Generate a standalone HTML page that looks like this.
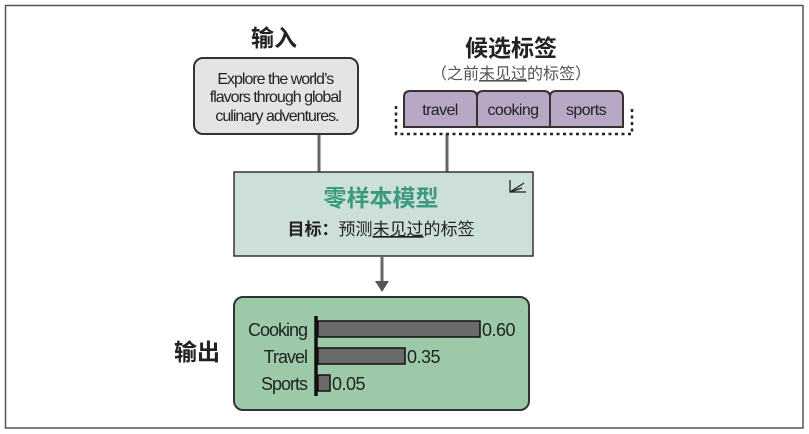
<!DOCTYPE html>
<html><head><meta charset="utf-8"><style>
html,body{margin:0;padding:0;background:#fff;}
svg{display:block;}
text{font-family:"Liberation Sans","Noto Sans CJK SC",sans-serif;}
</style></head><body>
<svg width="809" height="434" viewBox="0 0 809 434" xmlns="http://www.w3.org/2000/svg">
<rect x="5.5" y="5.5" width="797.5" height="422.5" fill="#fff" stroke="#555" stroke-width="1.5"/>
<text x="274" y="46" font-size="23" font-weight="bold" text-anchor="middle" fill="#222">输入</text>
<line x1="319" y1="134" x2="319" y2="172" stroke="#666" stroke-width="3"/>
<rect x="194" y="58" width="164" height="76" rx="9" fill="#e4e4e4" stroke="#333" stroke-width="2"/>
<text font-size="16" text-anchor="middle" fill="#222" letter-spacing="-1">
<tspan x="277" y="84">Explore the world’s</tspan>
<tspan x="277" y="102">flavors through global</tspan>
<tspan x="277" y="121">culinary adventures.</tspan></text>
<text x="511" y="56" font-size="23" font-weight="bold" text-anchor="middle" fill="#222">候选标签</text>
<text x="511" y="79" font-size="16" text-anchor="middle" fill="#555">（之前<tspan text-decoration="underline">未见过</tspan>的标签）</text>
<line x1="447" y1="134" x2="447" y2="172" stroke="#666" stroke-width="3"/>
<path d="M396 106 V134 H632 V106" fill="none" stroke="#222" stroke-width="2.5" stroke-dasharray="3,3.5"/>
<path d="M404 127 V97 q0 -6 6 -6 H471 q6 0 6 6 V127 Z" fill="#b9a7c6" stroke="#333" stroke-width="2"/>
<path d="M477 127 V97 q0 -6 6 -6 H544 q6 0 6 6 V127 Z" fill="#b9a7c6" stroke="#333" stroke-width="2"/>
<path d="M550 127 V97 q0 -6 6 -6 H617 q6 0 6 6 V127 Z" fill="#b9a7c6" stroke="#333" stroke-width="2"/>
<text font-size="16" text-anchor="middle" fill="#222" letter-spacing="-0.6">
<tspan x="440" y="115">travel</tspan><tspan x="513" y="115">cooking</tspan><tspan x="586" y="115">sports</tspan></text>
<rect x="234" y="172" width="299" height="84" fill="#cde0d8" stroke="#333" stroke-width="1.5"/>
<text x="381" y="206" font-size="23" font-weight="bold" text-anchor="middle" fill="#3a9a80">零样本模型</text>
<text x="381" y="235" font-size="17" text-anchor="middle" fill="#222"><tspan font-weight="bold">目标：</tspan>预测<tspan text-decoration="underline">未见过</tspan>的标签</text>
<g stroke="#222" stroke-width="1.3" fill="none">
<path d="M510 180 V192 H526"/><path d="M510 192 L524 183"/><path d="M510 192 L522 188"/>
</g>
<line x1="382" y1="256" x2="382" y2="282" stroke="#666" stroke-width="3"/>
<polygon points="375,281 389,281 382,292" fill="#555"/>
<text x="197" y="360" font-size="23" font-weight="bold" text-anchor="middle" fill="#222">输出</text>
<rect x="234" y="297" width="295" height="113" rx="9" fill="#9ccaa9" stroke="#333" stroke-width="2"/>
<rect x="318" y="321" width="162" height="16" fill="#6b6b6b" stroke="#111" stroke-width="1.5"/>
<rect x="318" y="348" width="87" height="16" fill="#6b6b6b" stroke="#111" stroke-width="1.5"/>
<rect x="318" y="375" width="12" height="16" fill="#6b6b6b" stroke="#111" stroke-width="1.5"/>
<line x1="316" y1="316" x2="316" y2="396" stroke="#111" stroke-width="3.5"/>
<text font-size="18" text-anchor="end" fill="#222" letter-spacing="-1">
<tspan x="307" y="336">Cooking</tspan><tspan x="307" y="363">Travel</tspan><tspan x="307" y="390">Sports</tspan></text>
<text font-size="18" fill="#222" letter-spacing="-0.5">
<tspan x="482" y="336">0.60</tspan><tspan x="407" y="363">0.35</tspan><tspan x="332" y="390">0.05</tspan></text>
</svg>
</body></html>
